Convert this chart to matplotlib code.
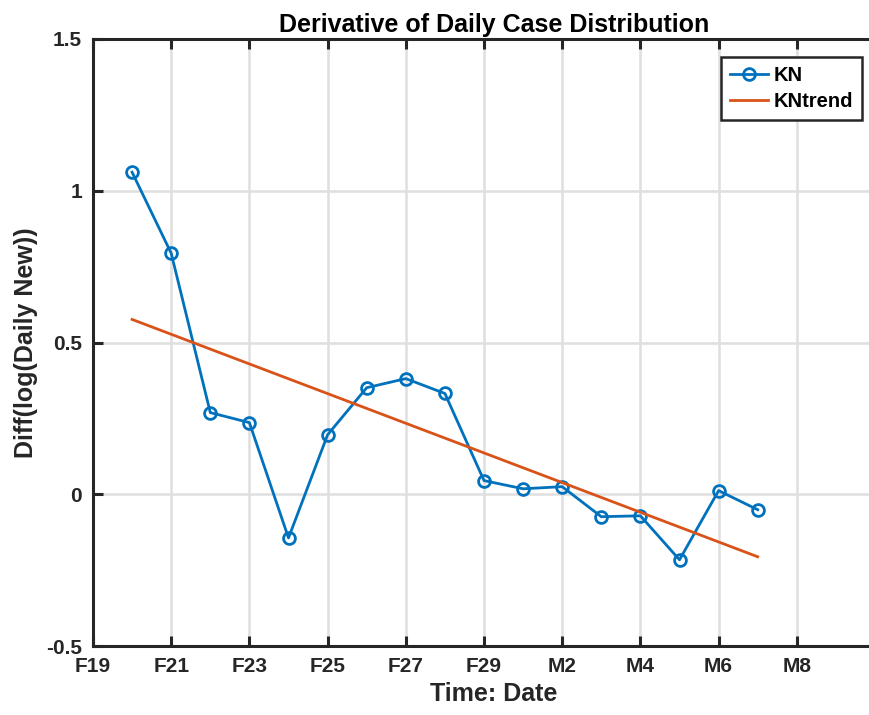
import matplotlib
matplotlib.use("Agg")
import matplotlib.pyplot as plt

plt.rcParams['font.family'] = ['Liberation Sans', 'DejaVu Sans']
plt.rcParams['font.weight'] = 'bold'

# days counted from Feb 19
days = [1, 2, 3, 4, 5, 6, 7, 8, 9, 10, 11, 12, 13, 14, 15, 16, 17]
kn = [1.061, 0.794, 0.269, 0.236, -0.144, 0.196, 0.351, 0.381, 0.332,
      0.045, 0.018, 0.025, -0.074, -0.071, -0.216, 0.012, -0.051]

trend_days = [1, 17]
kn_trend = [0.576, -0.206]

xtick_pos = [0, 2, 4, 6, 8, 10, 12, 14, 16, 18]
xtick_labels = ['F19', 'F21', 'F23', 'F25', 'F27', 'F29', 'M2', 'M4', 'M6', 'M8']
ytick_pos = [-0.5, 0, 0.5, 1, 1.5]
ytick_labels = ['-0.5', '0', '0.5', '1', '1.5']

blue = '#0072BD'
orange = '#D95319'
dark = '#262626'

fig = plt.figure(figsize=(8.7, 7.15), dpi=100)
# the plot area runs past the right edge of the figure
ax = fig.add_axes([93 / 870, 69 / 715, 39.1 * 20.5 / 870, 607 / 715])

ax.plot(days, kn, '-o', color=blue, lw=2.0, ms=8.5, mfc='none', mew=2.0, label='KN')
ax.plot(trend_days, kn_trend, '-', color=orange, lw=2.0, label='KNtrend')

ax.set_xlim(0, 20.5)
ax.set_ylim(-0.5, 1.5)
ax.set_xticks(xtick_pos)
ax.set_xticklabels(xtick_labels)
ax.set_yticks(ytick_pos)
ax.set_yticklabels(ytick_labels)

ax.grid(True, color='#dfdfdf', lw=1.8)
ax.set_axisbelow(True)
ax.spines['right'].set_visible(False)
for s in ax.spines.values():
    s.set_linewidth(2.2)
    s.set_color(dark)
ax.tick_params(direction='in', length=7, width=2.2, color=dark,
               labelsize=15, labelcolor=dark, top=True, right=False, pad=8)

ax.set_title('Derivative of Daily Case Distribution', fontsize=18,
             fontweight='bold', pad=5, color='black')
ax.set_xlabel('Time: Date', fontsize=18, fontweight='bold', color=dark, labelpad=4)
ax.set_ylabel('Diff(log(Daily New))', fontsize=18, fontweight='bold', color=dark, labelpad=6)

leg = ax.legend(loc='upper left', bbox_to_anchor=(721 / 870, 1 - 57 / 715),
                bbox_transform=fig.transFigure, fancybox=False, framealpha=1,
                edgecolor=dark, fontsize=14.5, handlelength=1.9,
                borderpad=0.45, labelspacing=0.35, handletextpad=0.25,
                borderaxespad=0)
leg.get_frame().set_linewidth(1.8)

fig.savefig('out.png', dpi=100)
